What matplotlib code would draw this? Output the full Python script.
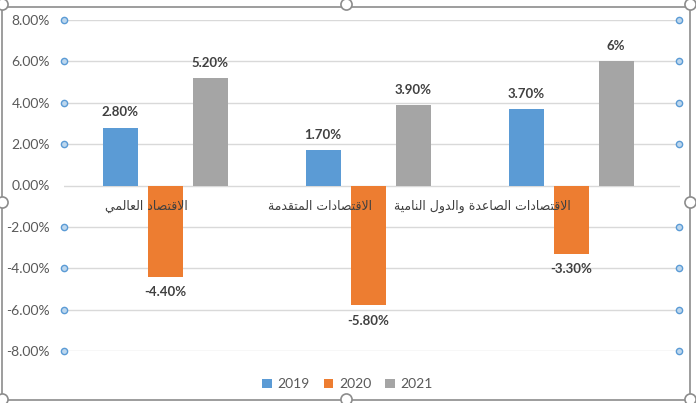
import matplotlib
matplotlib.use("Agg")
import matplotlib.pyplot as plt
from matplotlib.patches import Rectangle
from matplotlib.lines import Line2D
import numpy as np

# data (percent)
categories = ["الاقتصاد العالمي", "الاقتصادات المتقدمة", "الاقتصادات الصاعدة والدول النامية"]
years = ["2019", "2020", "2021"]
v2019 = [2.8, 1.7, 3.7]
v2020 = [-4.4, -5.8, -3.3]
v2021 = [5.2, 3.9, 6.0]
labels2019 = ["2.80%", "1.70%", "3.70%"]
labels2020 = ["-4.40%", "-5.80%", "-3.30%"]
labels2021 = ["5.20%", "3.90%", "6%"]
yticks = [-8, -6, -4, -2, 0, 2, 4, 6, 8]

colors = ["#5B9BD5", "#ED7D31", "#A5A5A5"]

plt.rcParams["font.family"] = ["Lato", "DejaVu Sans"]

# --- tiny arabic shaper (matplotlib does no contextual shaping) ---
FORMS = {
    "\u0627": (0xFE8D, 0xFE8E), "\u0628": (0xFE8F, 0xFE90, 0xFE91, 0xFE92),
    "\u0629": (0xFE93, 0xFE94), "\u062A": (0xFE95, 0xFE96, 0xFE97, 0xFE98),
    "\u062B": (0xFE99, 0xFE9A, 0xFE9B, 0xFE9C), "\u062C": (0xFE9D, 0xFE9E, 0xFE9F, 0xFEA0),
    "\u062D": (0xFEA1, 0xFEA2, 0xFEA3, 0xFEA4), "\u062E": (0xFEA5, 0xFEA6, 0xFEA7, 0xFEA8),
    "\u062F": (0xFEA9, 0xFEAA), "\u0630": (0xFEAB, 0xFEAC),
    "\u0631": (0xFEAD, 0xFEAE), "\u0632": (0xFEAF, 0xFEB0),
    "\u0633": (0xFEB1, 0xFEB2, 0xFEB3, 0xFEB4), "\u0634": (0xFEB5, 0xFEB6, 0xFEB7, 0xFEB8),
    "\u0635": (0xFEB9, 0xFEBA, 0xFEBB, 0xFEBC), "\u0636": (0xFEBD, 0xFEBE, 0xFEBF, 0xFEC0),
    "\u0637": (0xFEC1, 0xFEC2, 0xFEC3, 0xFEC4), "\u0638": (0xFEC5, 0xFEC6, 0xFEC7, 0xFEC8),
    "\u0639": (0xFEC9, 0xFECA, 0xFECB, 0xFECC), "\u063A": (0xFECD, 0xFECE, 0xFECF, 0xFED0),
    "\u0641": (0xFED1, 0xFED2, 0xFED3, 0xFED4), "\u0642": (0xFED5, 0xFED6, 0xFED7, 0xFED8),
    "\u0643": (0xFED9, 0xFEDA, 0xFEDB, 0xFEDC), "\u0644": (0xFEDD, 0xFEDE, 0xFEDF, 0xFEE0),
    "\u0645": (0xFEE1, 0xFEE2, 0xFEE3, 0xFEE4), "\u0646": (0xFEE5, 0xFEE6, 0xFEE7, 0xFEE8),
    "\u0647": (0xFEE9, 0xFEEA, 0xFEEB, 0xFEEC), "\u0648": (0xFEED, 0xFEEE),
    "\u0649": (0xFEEF, 0xFEF0), "\u064A": (0xFEF1, 0xFEF2, 0xFEF3, 0xFEF4),
}


def shape_word(w):
    out = []
    i = 0
    while i < len(w):
        c = w[i]
        prev = w[i - 1] if i > 0 else None
        joins_prev = prev is not None and prev in FORMS and len(FORMS[prev]) == 4 and c in FORMS
        # lam + alef ligature
        if c == "\u0644" and i + 1 < len(w) and w[i + 1] == "\u0627":
            out.append(chr(0xFEFC if joins_prev else 0xFEFB))
            i += 2
            continue
        if c not in FORMS:
            out.append(c)
            i += 1
            continue
        f = FORMS[c]
        nxt = w[i + 1] if i + 1 < len(w) else None
        joins_next = len(f) == 4 and nxt is not None and nxt in FORMS
        if joins_prev and joins_next:
            out.append(chr(f[3]))
        elif joins_prev:
            out.append(chr(f[1]))
        elif joins_next:
            out.append(chr(f[2]))
        else:
            out.append(chr(f[0]))
        i += 1
    return "".join(out)


def rtl(s):
    shaped = " ".join(shape_word(w) for w in s.split(" "))
    return shaped[::-1]


W, H = 696, 403
fig = plt.figure(figsize=(W / 100, H / 100), dpi=100)
ax = fig.add_axes([64 / W, 1 - 351 / H, (680 - 64) / W, (351 - 20) / H])

x = np.arange(len(categories))
off = 0.222
bw = 0.173
for k, (vals, labs) in enumerate([(v2019, labels2019), (v2020, labels2020), (v2021, labels2021)]):
    xs = x + (k - 1) * off
    ax.bar(xs, vals, width=bw, color=colors[k], label=years[k], zorder=3)
    for xi, v, lab in zip(xs, vals, labs):
        if v >= 0:
            ax.text(xi, v + 0.45, lab, ha="center", va="bottom", fontsize=9.5,
                    fontweight="bold", color="#404040")
        else:
            ax.text(xi, v - 0.45, lab, ha="center", va="top", fontsize=9.5,
                    fontweight="bold", color="#404040")

ax.set_xlim(-0.5, 0.537 + 2)
ax.set_ylim(-8, 8)
ax.set_yticks(yticks)
ax.set_yticklabels([f"{t:.2f}%" for t in yticks])
ax.tick_params(axis="y", length=0, pad=10, labelsize=10, labelcolor="#595959")
ax.set_xticks([])
for sp in ax.spines.values():
    sp.set_visible(False)
for t in yticks:
    ax.axhline(t, color="#D9D9D9", lw=1, zorder=1)

# selected gridline end dots (except the zero line)
for t in yticks:
    if t == 0:
        continue
    ax.plot([-0.5, 2.53], [t, t], ls="none", marker="o", ms=4.5,
            mfc="#BDD7EE", mec="#5B9BD5", mew=1, clip_on=False, zorder=5)

# category labels just under the zero line
label_right = [0.11, 0.02, 0.0]
for xi, cat, r in zip(x, categories, label_right):
    ax.text(xi + r, -0.7, rtl(cat), ha="right", va="top", fontsize=9,
            color="#404040", family="DejaVu Sans", zorder=4)

leg = ax.legend(loc="upper center", bbox_to_anchor=(0.46, -0.045), ncol=3, frameon=False,
                fontsize=10, handlelength=0.7, handleheight=0.7, handletextpad=0.4,
                columnspacing=1.0)
for txt in leg.get_texts():
    txt.set_color("#595959")

# chart frame with selection handles
fig.add_artist(Rectangle((2 / W, 3 / H), 688 / W, 393 / H, transform=fig.transFigure,
                         fill=False, ec="#8C8C8C", lw=1.2))
for px, py in [(2, 4), (346, 4), (690, 4), (2, 202), (690, 202), (2, 399), (346, 399), (690, 399)]:
    fig.add_artist(Line2D([px / W], [1 - py / H], marker="o", ms=8,
                          mfc="white", mec="#8C8C8C", mew=1.2,
                          transform=fig.transFigure))

fig.savefig("out.png", dpi=100)
